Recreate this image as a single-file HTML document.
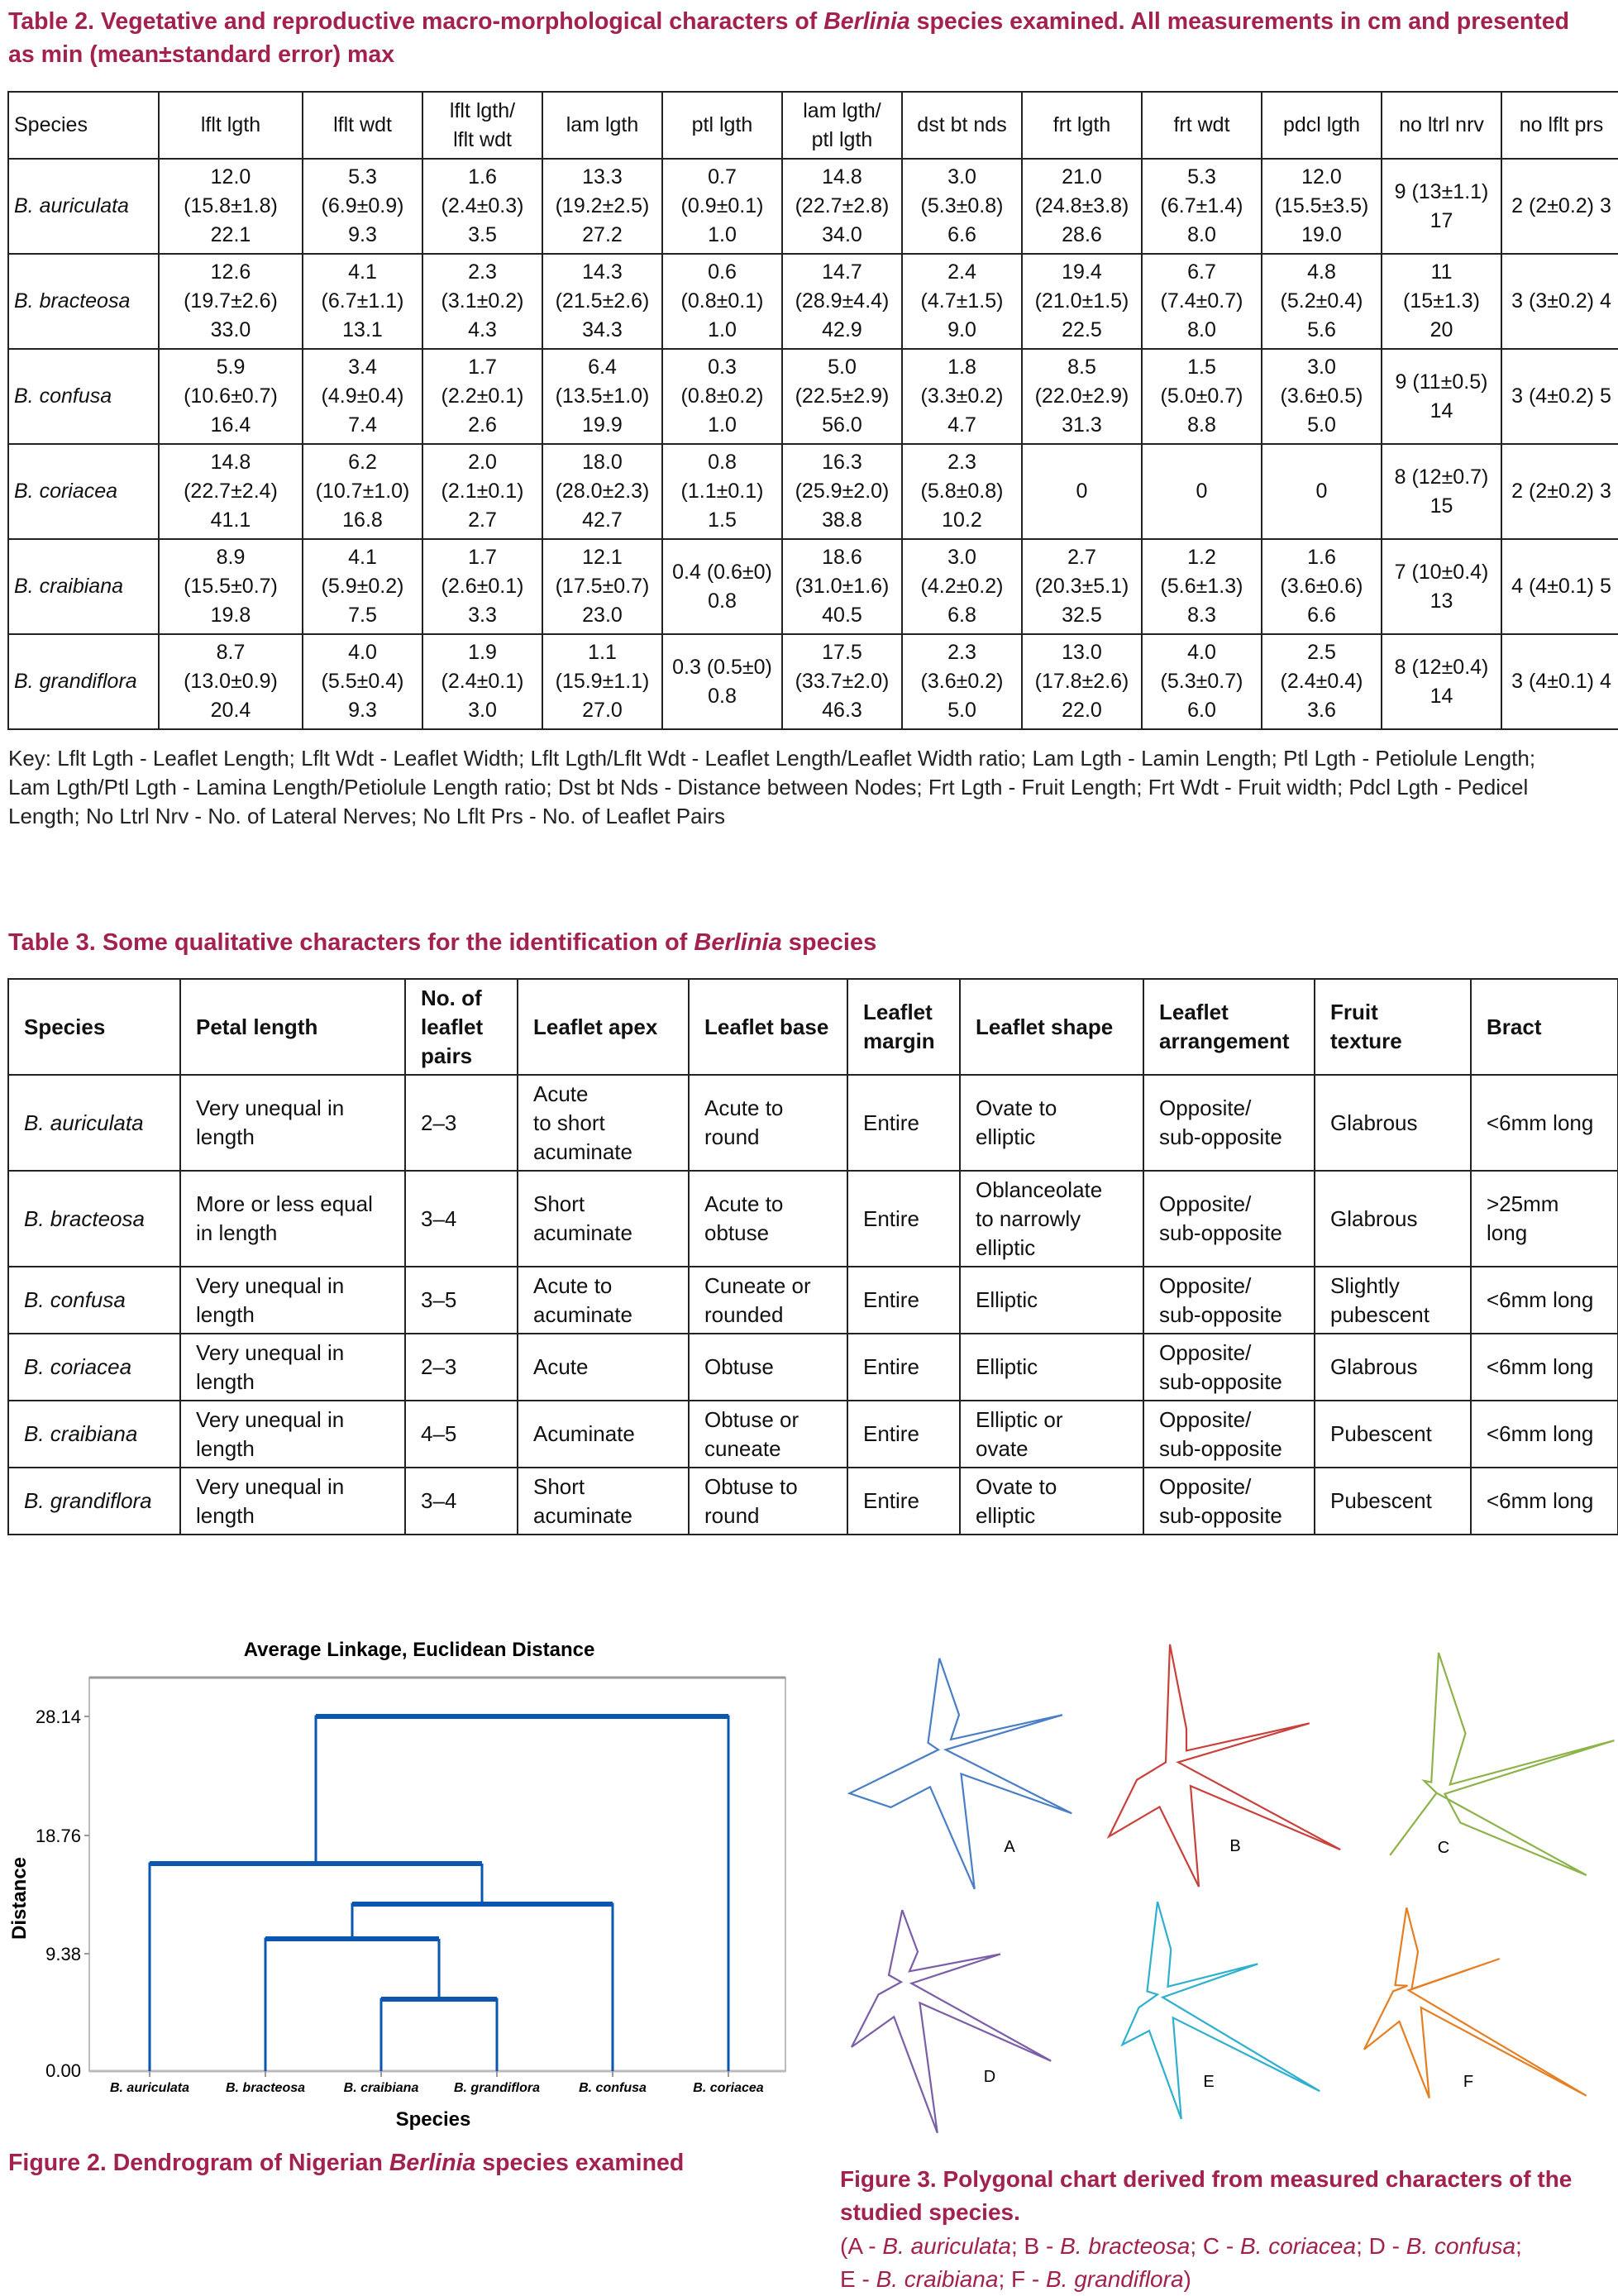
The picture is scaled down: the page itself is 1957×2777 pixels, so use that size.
<!DOCTYPE html>
<html><head><meta charset="utf-8">
<style>
body{margin:0;width:1957px;height:2776px;background:#fff;position:relative;overflow:hidden;font-family:"Liberation Sans",sans-serif;color:#111}
.cap{position:absolute;color:#a3214e;font-weight:bold;white-space:nowrap}
table{position:absolute;border-collapse:collapse;table-layout:fixed}
td{border:2px solid #222;text-align:center;vertical-align:middle;padding:0;overflow:hidden;white-space:nowrap}
#t2 td{font-size:25px;line-height:35px}
#t2 td:first-child{text-align:left;padding-left:6px;font-style:italic}
#t2 tr.h td{font-style:normal}
#t3 td{font-size:26px;line-height:35px;text-align:left;padding-left:18px}
#t3 tr.h td{font-weight:bold}
#t3 td:first-child{font-style:italic}
#t3 tr.h td:first-child{font-style:normal}
.key{position:absolute;left:10px;top:900px;font-size:26px;line-height:35px;white-space:nowrap;color:#222}
</style></head><body>
<div class="cap" style="left:10px;top:6px;font-size:28.5px;line-height:40px">Table 2. Vegetative and reproductive macro-morphological characters of <i>Berlinia</i> species examined. All measurements in cm and presented<br>as min (mean±standard error) max</div>

<table id="t2" style="left:9px;top:110px;width:1947px">
<colgroup><col style="width:182px"><col style="width:174px"><col style="width:145px"><col style="width:145px"><col style="width:145px"><col style="width:145px"><col style="width:145px"><col style="width:145px"><col style="width:145px"><col style="width:145px"><col style="width:145px"><col style="width:145px"><col style="width:145px"></colgroup>
<tr class="h" style="height:81px"><td>Species</td><td>lflt lgth</td><td>lflt wdt</td><td>lflt lgth/<br>lflt wdt</td><td>lam lgth</td><td>ptl lgth</td><td>lam lgth/<br>ptl lgth</td><td>dst bt nds</td><td>frt lgth</td><td>frt wdt</td><td>pdcl lgth</td><td>no ltrl nrv</td><td>no lflt prs</td></tr>
<tr style="height:115px"><td>B. auriculata</td><td>12.0<br>(15.8±1.8)<br>22.1</td><td>5.3<br>(6.9±0.9)<br>9.3</td><td>1.6<br>(2.4±0.3)<br>3.5</td><td>13.3<br>(19.2±2.5)<br>27.2</td><td>0.7<br>(0.9±0.1)<br>1.0</td><td>14.8<br>(22.7±2.8)<br>34.0</td><td>3.0<br>(5.3±0.8)<br>6.6</td><td>21.0<br>(24.8±3.8)<br>28.6</td><td>5.3<br>(6.7±1.4)<br>8.0</td><td>12.0<br>(15.5±3.5)<br>19.0</td><td>9 (13±1.1)<br>17</td><td>2 (2±0.2) 3</td></tr>
<tr style="height:115px"><td>B. bracteosa</td><td>12.6<br>(19.7±2.6)<br>33.0</td><td>4.1<br>(6.7±1.1)<br>13.1</td><td>2.3<br>(3.1±0.2)<br>4.3</td><td>14.3<br>(21.5±2.6)<br>34.3</td><td>0.6<br>(0.8±0.1)<br>1.0</td><td>14.7<br>(28.9±4.4)<br>42.9</td><td>2.4<br>(4.7±1.5)<br>9.0</td><td>19.4<br>(21.0±1.5)<br>22.5</td><td>6.7<br>(7.4±0.7)<br>8.0</td><td>4.8<br>(5.2±0.4)<br>5.6</td><td>11<br>(15±1.3)<br>20</td><td>3 (3±0.2) 4</td></tr>
<tr style="height:115px"><td>B. confusa</td><td>5.9<br>(10.6±0.7)<br>16.4</td><td>3.4<br>(4.9±0.4)<br>7.4</td><td>1.7<br>(2.2±0.1)<br>2.6</td><td>6.4<br>(13.5±1.0)<br>19.9</td><td>0.3<br>(0.8±0.2)<br>1.0</td><td>5.0<br>(22.5±2.9)<br>56.0</td><td>1.8<br>(3.3±0.2)<br>4.7</td><td>8.5<br>(22.0±2.9)<br>31.3</td><td>1.5<br>(5.0±0.7)<br>8.8</td><td>3.0<br>(3.6±0.5)<br>5.0</td><td>9 (11±0.5)<br>14</td><td>3 (4±0.2) 5</td></tr>
<tr style="height:115px"><td>B. coriacea</td><td>14.8<br>(22.7±2.4)<br>41.1</td><td>6.2<br>(10.7±1.0)<br>16.8</td><td>2.0<br>(2.1±0.1)<br>2.7</td><td>18.0<br>(28.0±2.3)<br>42.7</td><td>0.8<br>(1.1±0.1)<br>1.5</td><td>16.3<br>(25.9±2.0)<br>38.8</td><td>2.3<br>(5.8±0.8)<br>10.2</td><td>0</td><td>0</td><td>0</td><td>8 (12±0.7)<br>15</td><td>2 (2±0.2) 3</td></tr>
<tr style="height:115px"><td>B. craibiana</td><td>8.9<br>(15.5±0.7)<br>19.8</td><td>4.1<br>(5.9±0.2)<br>7.5</td><td>1.7<br>(2.6±0.1)<br>3.3</td><td>12.1<br>(17.5±0.7)<br>23.0</td><td>0.4 (0.6±0)<br>0.8</td><td>18.6<br>(31.0±1.6)<br>40.5</td><td>3.0<br>(4.2±0.2)<br>6.8</td><td>2.7<br>(20.3±5.1)<br>32.5</td><td>1.2<br>(5.6±1.3)<br>8.3</td><td>1.6<br>(3.6±0.6)<br>6.6</td><td>7 (10±0.4)<br>13</td><td>4 (4±0.1) 5</td></tr>
<tr style="height:115px"><td>B. grandiflora</td><td>8.7<br>(13.0±0.9)<br>20.4</td><td>4.0<br>(5.5±0.4)<br>9.3</td><td>1.9<br>(2.4±0.1)<br>3.0</td><td>1.1<br>(15.9±1.1)<br>27.0</td><td>0.3 (0.5±0)<br>0.8</td><td>17.5<br>(33.7±2.0)<br>46.3</td><td>2.3<br>(3.6±0.2)<br>5.0</td><td>13.0<br>(17.8±2.6)<br>22.0</td><td>4.0<br>(5.3±0.7)<br>6.0</td><td>2.5<br>(2.4±0.4)<br>3.6</td><td>8 (12±0.4)<br>14</td><td>3 (4±0.1) 4</td></tr>
</table>

<div class="key">Key: Lflt Lgth - Leaflet Length; Lflt Wdt - Leaflet Width; Lflt Lgth/Lflt Wdt - Leaflet Length/Leaflet Width ratio; Lam Lgth - Lamin Length; Ptl Lgth - Petiolule Length;<br>Lam Lgth/Ptl Lgth - Lamina Length/Petiolule Length ratio; Dst bt Nds - Distance between Nodes; Frt Lgth - Fruit Length; Frt Wdt - Fruit width; Pdcl Lgth - Pedicel<br>Length; No Ltrl Nrv - No. of Lateral Nerves; No Lflt Prs - No. of Leaflet Pairs</div>

<div class="cap" style="left:10px;top:1120px;font-size:29px;line-height:40px">Table 3. Some qualitative characters for the identification of <i>Berlinia</i> species</div>

<table id="t3" style="left:9px;top:1183px;width:1947px">
<colgroup><col style="width:208px"><col style="width:272px"><col style="width:136px"><col style="width:207px"><col style="width:192px"><col style="width:136px"><col style="width:222px"><col style="width:207px"><col style="width:189px"><col style="width:178px"></colgroup>
<tr class="h" style="height:116px"><td>Species</td><td>Petal length</td><td>No. of<br>leaflet<br>pairs</td><td>Leaflet apex</td><td>Leaflet base</td><td>Leaflet<br>margin</td><td>Leaflet shape</td><td>Leaflet<br>arrangement</td><td>Fruit<br>texture</td><td>Bract</td></tr>
<tr style="height:116px"><td>B. auriculata</td><td>Very unequal in<br>length</td><td>2–3</td><td>Acute<br>to short<br>acuminate</td><td>Acute to<br>round</td><td>Entire</td><td>Ovate to<br>elliptic</td><td>Opposite/<br>sub-opposite</td><td>Glabrous</td><td>&lt;6mm long</td></tr>
<tr style="height:116px"><td>B. bracteosa</td><td>More or less equal<br>in length</td><td>3–4</td><td>Short<br>acuminate</td><td>Acute to<br>obtuse</td><td>Entire</td><td>Oblanceolate<br>to narrowly<br>elliptic</td><td>Opposite/<br>sub-opposite</td><td>Glabrous</td><td>&gt;25mm<br>long</td></tr>
<tr style="height:81px"><td>B. confusa</td><td>Very unequal in<br>length</td><td>3–5</td><td>Acute to<br>acuminate</td><td>Cuneate or<br>rounded</td><td>Entire</td><td>Elliptic</td><td>Opposite/<br>sub-opposite</td><td>Slightly<br>pubescent</td><td>&lt;6mm long</td></tr>
<tr style="height:81px"><td>B. coriacea</td><td>Very unequal in<br>length</td><td>2–3</td><td>Acute</td><td>Obtuse</td><td>Entire</td><td>Elliptic</td><td>Opposite/<br>sub-opposite</td><td>Glabrous</td><td>&lt;6mm long</td></tr>
<tr style="height:81px"><td>B. craibiana</td><td>Very unequal in<br>length</td><td>4–5</td><td>Acuminate</td><td>Obtuse or<br>cuneate</td><td>Entire</td><td>Elliptic or<br>ovate</td><td>Opposite/<br>sub-opposite</td><td>Pubescent</td><td>&lt;6mm long</td></tr>
<tr style="height:81px"><td>B. grandiflora</td><td>Very unequal in<br>length</td><td>3–4</td><td>Short<br>acuminate</td><td>Obtuse to<br>round</td><td>Entire</td><td>Ovate to<br>elliptic</td><td>Opposite/<br>sub-opposite</td><td>Pubescent</td><td>&lt;6mm long</td></tr>
</table>

<svg style="position:absolute;left:0;top:0" width="1957" height="2776" xmlns="http://www.w3.org/2000/svg">
<text x="507" y="2003" font-size="24" font-weight="bold" text-anchor="middle" font-family="Liberation Sans">Average Linkage, Euclidean Distance</text>
<rect x="108" y="2029" width="842" height="476" fill="none" stroke="#bbb" stroke-width="2"/>
<line x1="108" y1="2029" x2="950" y2="2029" stroke="#999" stroke-width="3"/>
<line x1="108" y1="2505" x2="950" y2="2505" stroke="#bbb" stroke-width="3"/>
<g font-size="22" font-family="Liberation Sans" text-anchor="end">
<text x="98" y="2084">28.14</text><text x="98" y="2228">18.76</text><text x="98" y="2371">9.38</text><text x="98" y="2512">0.00</text></g>
<g stroke="#999" stroke-width="2"><line x1="102" y1="2076" x2="108" y2="2076"/><line x1="102" y1="2220" x2="108" y2="2220"/><line x1="102" y1="2363" x2="108" y2="2363"/>
<line x1="181" y1="2505" x2="181" y2="2512"/><line x1="321" y1="2505" x2="321" y2="2512"/><line x1="461" y1="2505" x2="461" y2="2512"/><line x1="601" y1="2505" x2="601" y2="2512"/><line x1="741" y1="2505" x2="741" y2="2512"/><line x1="881" y1="2505" x2="881" y2="2512"/></g>
<g fill="none" stroke="#0a56b0" stroke-width="3">
<path d="M461 2505V2418H601V2505"/><path d="M531 2418V2345"/>
<path d="M321 2505V2345H531"/><path d="M426 2345V2303H741V2505"/>
<path d="M583 2303V2254"/><path d="M181 2505V2254H583"/>
<path d="M382 2254V2076H881V2505"/></g>
<g stroke="#0a56b0" stroke-width="6"><line x1="461" y1="2418" x2="601" y2="2418"/><line x1="321" y1="2345" x2="531" y2="2345"/><line x1="426" y1="2303" x2="741" y2="2303"/><line x1="181" y1="2254" x2="583" y2="2254"/><line x1="382" y1="2076" x2="881" y2="2076"/></g>
<g font-size="16" font-style="italic" font-weight="bold" font-family="Liberation Sans" text-anchor="middle">
<text x="181" y="2530">B. auriculata</text><text x="321" y="2530">B. bracteosa</text><text x="461" y="2530">B. craibiana</text><text x="601" y="2530">B. grandiflora</text><text x="741" y="2530">B. confusa</text><text x="881" y="2530">B. coriacea</text></g>
<text x="524" y="2571" font-size="24" font-weight="bold" text-anchor="middle" font-family="Liberation Sans">Species</text>
<text transform="translate(31,2296) rotate(-90)" font-size="24" font-weight="bold" text-anchor="middle" font-family="Liberation Sans">Distance</text>

<g transform="translate(0,1900) scale(1.25,0.5618)" fill="none" stroke-width="2.2" stroke-linejoin="miter">
<polyline vector-effect="non-scaling-stroke" stroke="#4a7ec6" points="909,188 928,310 920,363 1028,310 915,385 1037,522 930,437 943,685 900,465 862,509 822,479 908,385 898,370 909,188"/>
<polyline vector-effect="non-scaling-stroke" stroke="#c9413a" points="1132,158 1148,340 1148,387 1267,328 1140,412 1297,600 1152,463 1160,680 1122,508 1073,572 1100,450 1128,412 1132,158"/>
<polyline vector-effect="non-scaling-stroke" stroke="#8db34a" points="1392,176 1418,350 1403,460 1562,365 1398,480 1413,542 1535,655 1390,478 1345,612 1390,478 1378,452 1385,455 1392,176"/>
<polyline vector-effect="non-scaling-stroke" stroke="#7b5ea7" points="873,730 888,820 880,862 968,825 882,888 1017,1055 890,930 907,1210 865,960 824,1025 850,912 872,885 860,870 873,730"/>
<polyline vector-effect="non-scaling-stroke" stroke="#2fb0cf" points="1120,712 1133,815 1130,895 1217,846 1125,918 1277,1120 1135,962 1143,1180 1112,990 1086,1020 1102,940 1120,912 1110,905 1120,712"/>
<polyline vector-effect="non-scaling-stroke" stroke="#e67e22" points="1361,725 1372,820 1366,900 1451,835 1363,903 1535,1130 1375,940 1383,1135 1354,970 1320,1030 1348,905 1362,893 1350,892 1361,725"/>
</g>
<g font-size="20" font-family="Liberation Sans" text-anchor="middle">
<text x="1221" y="2240">A</text><text x="1494" y="2239">B</text><text x="1746" y="2241">C</text>
<text x="1197" y="2518">D</text><text x="1462" y="2524">E</text><text x="1776" y="2524">F</text></g>
</svg>

<div class="cap" style="left:10px;top:2596px;font-size:28.5px;line-height:40px">Figure 2. Dendrogram of Nigerian <i>Berlinia</i> species examined</div>
<div class="cap" style="left:1016px;top:2616px;font-size:28px;line-height:40px">Figure 3. Polygonal chart derived from measured characters of the<br>studied species.</div>
<div class="cap" style="left:1016px;top:2697px;font-size:28px;line-height:40px;font-weight:normal">(A - <i>B. auriculata</i>; B - <i>B. bracteosa</i>; C - <i>B. coriacea</i>; D - <i>B. confusa</i>;<br>E - <i>B. craibiana</i>; F - <i>B. grandiflora</i>)</div>
</body></html>
